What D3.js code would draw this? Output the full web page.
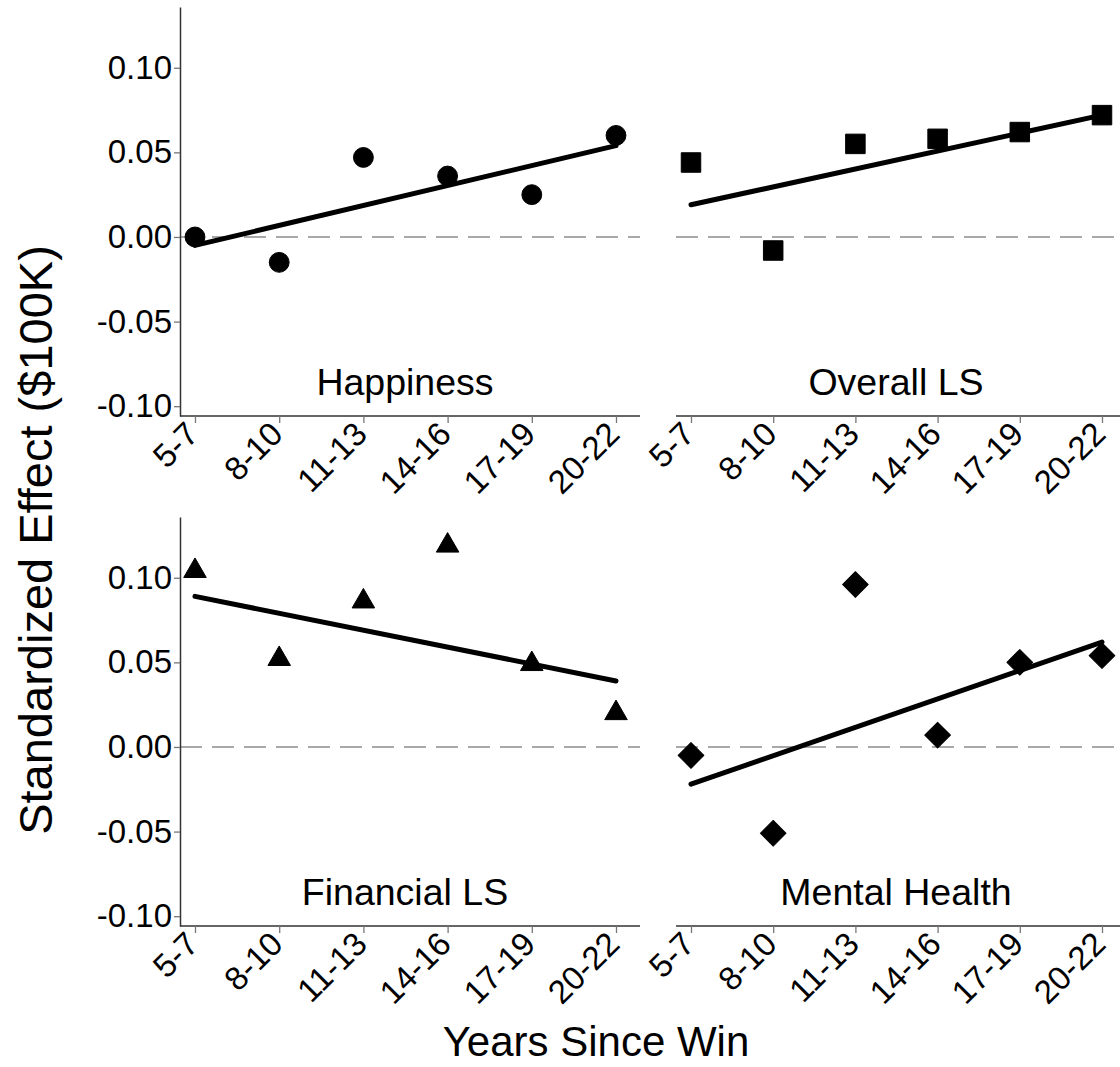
<!DOCTYPE html>
<head>
  <meta charset="utf-8">
  <script src="https://cdn.jsdelivr.net/npm/d3@7"></script>
  <style>
    body { margin: 0; background: #fff; }
    text { font-family: "Liberation Sans", Arial, sans-serif; fill: #000; }
  </style>
</head>
<body>
<svg width="1120" height="1067"></svg>

<script type="text/javascript">

// x categories and y ticks
var categories = ["5-7", "8-10", "11-13", "14-16", "17-19", "20-22"];
var yTicks = [-0.10, -0.05, 0.00, 0.05, 0.10];

// one array per outcome
var panelNames   = ["Happiness", "Overall LS", "Financial LS", "Mental Health"];
var happiness    = [0.000, -0.015, 0.047, 0.036, 0.025, 0.060];
var overallLS    = [0.044, -0.008, 0.055, 0.058, 0.062, 0.072];
var financialLS  = [0.104, 0.052, 0.086, 0.119, 0.049, 0.020];
var mentalHealth = [-0.005, -0.051, 0.096, 0.007, 0.050, 0.054];

// fitted line ends (at 5-7 and at 20-22)
var fitStart = [-0.005, 0.019, 0.089, -0.022];
var fitEnd   = [0.054, 0.072, 0.039, 0.062];

var series = [happiness, overallLS, financialLS, mentalHealth];
var shapes = ["circle", "square", "triangle", "diamond"];

var svg = d3.select("svg");

// two columns, two rows
var cols = [
  { x0: 180, x1: 640, p0: 195, p1: 616, yaxis: true },
  { x0: 676, x1: 1120, p0: 691, p1: 1102, yaxis: false }
];
var rows = [
  { top: 7, bottom: 416 },
  { top: 517, bottom: 926 }
];

var dom = [-0.1058, 0.1359];

function markerPath(shape) {
  if (shape == "circle") return d3.symbol(d3.symbolCircle, 310)();
  if (shape == "square") return d3.symbol(d3.symbolSquare, 380)();
  if (shape == "triangle") return d3.symbol(d3.symbolTriangle, 220)();
  return d3.symbol(d3.symbolSquare, 330)();   // diamond = rotated square
}

series.forEach(function(vals, k) {
  var c = cols[k % 2], r = rows[Math.floor(k / 2)];
  var x = d3.scalePoint().domain(categories).range([c.p0, c.p1]);
  var y = d3.scaleLinear().domain(dom).range([r.bottom, r.top]);
  var g = svg.append("g");

  // zero reference
  g.append("line")
    .attr("x1", c.x0).attr("x2", c.x1)
    .attr("y1", y(0)).attr("y2", y(0))
    .style("stroke", "#8c8c8c").style("stroke-width", 1.5)
    .style("stroke-dasharray", "22,10");

  // x axis
  var xa = g.append("g")
    .attr("transform", "translate(0," + r.bottom + ")")
    .call(d3.axisBottom(x).tickSize(7).tickSizeOuter(0).tickPadding(4));
  xa.select(".domain").attr("d", "M" + c.x0 + ",0H" + c.x1)
    .style("stroke", "#333").style("stroke-width", 1.5);
  xa.selectAll(".tick line").style("stroke", "#777").style("stroke-width", 1.3);
  xa.selectAll(".tick text")
    .style("font-size", "33px").style("fill", "#000")
    .attr("text-anchor", "end")
    .attr("dy", null).attr("y", 0)
    .attr("transform", "translate(5,20) rotate(-45)");

  // y axis on the left column only
  if (c.yaxis) {
    var ya = g.append("g")
      .attr("transform", "translate(" + c.x0 + ",0)")
      .call(d3.axisLeft(y).tickValues(yTicks).tickFormat(d3.format(".2f"))
        .tickSize(6).tickSizeOuter(0).tickPadding(2));
    ya.select(".domain").style("stroke", "#333").style("stroke-width", 1.5);
    ya.selectAll(".tick line").style("stroke", "#777").style("stroke-width", 1.3);
    ya.selectAll(".tick text").style("font-size", "33px").style("fill", "#000")
      .text(function(d) { return d3.format(".2f")(d).replace("−", "-"); });
  }

  // fit line
  g.append("line")
    .attr("x1", x(categories[0])).attr("y1", y(fitStart[k]))
    .attr("x2", x(categories[categories.length - 1])).attr("y2", y(fitEnd[k]))
    .style("stroke", "#000").style("stroke-width", 5)
    .style("stroke-linecap", "round");

  // markers
  g.selectAll("path.mk")
    .data(vals)
    .enter()
    .append("path")
      .attr("class", "mk")
      .attr("d", markerPath(shapes[k]))
      .attr("transform", function(d, i) {
        var t = "translate(" + x(categories[i]) + "," + y(d) + ")";
        return shapes[k] == "diamond" ? t + " rotate(45)" : t;
      })
      .style("fill", "#000").style("stroke", "#000")
      .style("stroke-width", 1).style("stroke-linejoin", "round");

  // panel title
  g.append("text")
    .attr("x", (c.x0 + c.x1) / 2 - (c.yaxis ? 5 : 2))
    .attr("y", r.bottom - 21)
    .attr("text-anchor", "middle")
    .style("font-size", "37.5px")
    .text(panelNames[k]);
});

// axis titles
svg.append("text")
  .attr("transform", "translate(52,540) rotate(-90)")
  .attr("text-anchor", "middle")
  .style("font-size", "47px")
  .text("Standardized Effect ($100K)");

svg.append("text")
  .attr("x", 596).attr("y", 1056)
  .attr("text-anchor", "middle")
  .style("font-size", "42px")
  .text("Years Since Win");

</script>
</body>
</html>
